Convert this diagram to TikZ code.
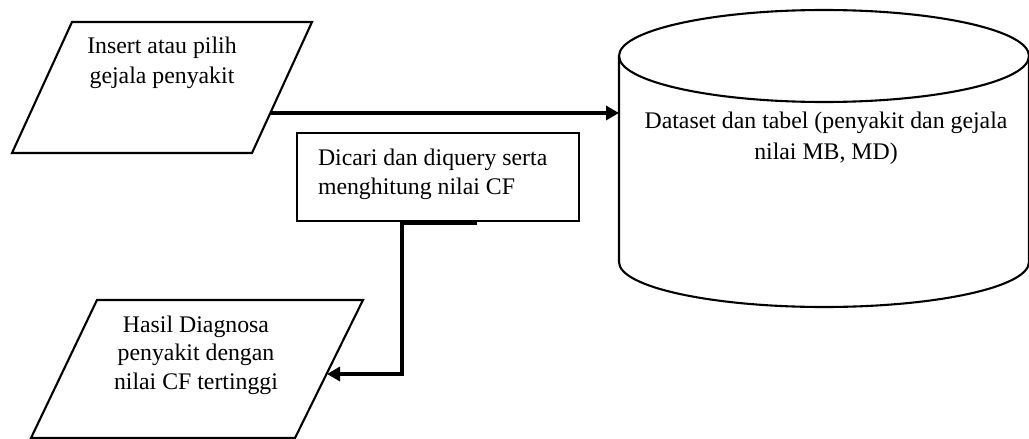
\documentclass[tikz,border=0pt]{standalone}
\usepackage{fontspec}
\setmainfont{Liberation Serif}
\usetikzlibrary{arrows.meta}
\tikzset{
  outline/.style={draw=black, line width=2.1pt, line join=miter},
  conn/.style={draw=black, line width=3.4pt, line join=miter,
    -{Triangle[length=13pt,width=14pt]}},
  lbl/.style={inner sep=0pt, outer sep=0pt, text=black},
}
\newcommand{\lblfont}[1]{\fontsize{23.8}{#1}\selectfont}
\begin{document}
\begin{tikzpicture}[x=1pt, y=-1pt]
  \useasboundingbox (0,0) rectangle (1029,439);
  \fill[white] (0,0) rectangle (1029,439);

  % input parallelogram
  \draw[outline] (72,22) -- (312,22) -- (252,153) -- (12,153) -- cycle;
  \node[lbl, anchor=north, align=center, font=\lblfont{30}] (input) at (162,36.7)
    {Insert atau pilih\\gejala penyakit};

  % database cylinder
  \draw[outline] (824,56) ellipse [x radius=205pt, y radius=46pt];
  \draw[outline] (619,56) -- (619,262)
    arc[start angle=180, end angle=360, x radius=205pt, y radius=45pt] -- (1029,56);
  \node[lbl, anchor=north, align=center, font=\lblfont{31}] (data) at (826,111.5)
    {Dataset dan tabel (penyakit dan gejala\\nilai MB, MD)};

  % process box
  \draw[outline] (297,133) rectangle (579,221);
  \node[lbl, anchor=north west, align=left, font=\lblfont{29}] (proc) at (318,148.7)
    {Dicari dan diquery serta\\menghitung nilai CF};

  % output parallelogram
  \draw[outline] (97,300) -- (363,300) -- (295,438) -- (31,438) -- cycle;
  \node[lbl, anchor=north, align=center, font=\lblfont{28.5}] (output) at (196,315.7)
    {Hasil Diagnosa\\penyakit dengan\\nilai CF tertinggi};

  % connector end points
  \coordinate (inR) at (270,113);
  \coordinate (dbL) at (619,113);
  \coordinate (procB) at (477,223.3);
  \coordinate (procT) at (402,223.3);
  \coordinate (outR) at (327,374);

  \draw[conn] (inR) -- (dbL);
  \draw[conn] (procB) -- (procT) |- (outR);
\end{tikzpicture}
\end{document}
